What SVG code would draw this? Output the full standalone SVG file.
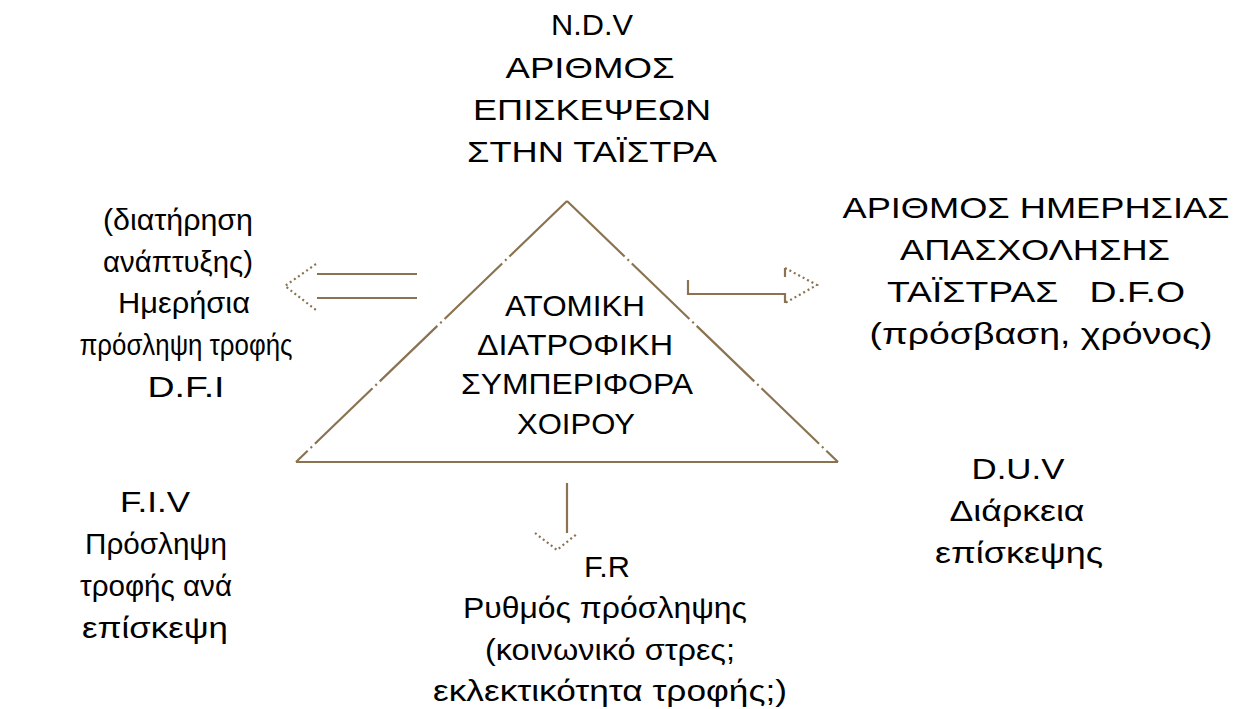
<svg xmlns="http://www.w3.org/2000/svg" width="1238" height="709" viewBox="0 0 1238 709">
<style>
.t{font-family:"Liberation Sans",Arial,sans-serif;font-size:30px;fill:#000;text-anchor:middle;white-space:pre}
.ln{stroke:#8a7350;stroke-width:2.2;fill:none}
.dot{stroke:#8a7350;stroke-width:2.2;stroke-dasharray:2 3;fill:none}
.dash{stroke:#8a7350;stroke-width:2.2;stroke-dasharray:80 4 2 4;fill:none}
</style>
<rect width="1238" height="709" fill="#fff"/>
<g id="center">
<path class="ln" d="M296 462 H838"/>
<path class="dash" d="M567 201 L296 462"/>
<path class="dash" d="M567 201 L838 462"/>
<text class="t" x="575" y="316" textLength="140" lengthAdjust="spacingAndGlyphs">ΑΤΟΜΙΚΗ</text>
<text class="t" x="575" y="355" textLength="196" lengthAdjust="spacingAndGlyphs">ΔΙΑΤΡΟΦΙΚΗ</text>
<text class="t" x="577" y="394" textLength="232" lengthAdjust="spacingAndGlyphs">ΣΥΜΠΕΡΙΦΟΡΑ</text>
<text class="t" x="576" y="434" textLength="118" lengthAdjust="spacingAndGlyphs">ΧΟΙΡΟΥ</text>
</g>
<g id="ndv">
<text class="t" x="592" y="35" textLength="82" lengthAdjust="spacingAndGlyphs">N.D.V</text>
<text class="t" x="590" y="78" textLength="169" lengthAdjust="spacingAndGlyphs">ΑΡΙΘΜΟΣ</text>
<text class="t" x="592" y="120" textLength="238" lengthAdjust="spacingAndGlyphs">ΕΠΙΣΚΕΨΕΩΝ</text>
<text class="t" x="592" y="162" textLength="250" lengthAdjust="spacingAndGlyphs">ΣΤΗΝ ΤΑΪΣΤΡΑ</text>
</g>
<g id="dfo">
<text class="t" x="1036" y="218" textLength="387" lengthAdjust="spacingAndGlyphs">ΑΡΙΘΜΟΣ ΗΜΕΡΗΣΙΑΣ</text>
<text class="t" x="1035" y="260" textLength="270" lengthAdjust="spacingAndGlyphs">ΑΠΑΣΧΟΛΗΣΗΣ</text>
<text class="t" x="1036" y="302" textLength="298" lengthAdjust="spacingAndGlyphs">ΤΑΪΣΤΡΑΣ   D.F.O</text>
<text class="t" x="1041" y="344" textLength="343" lengthAdjust="spacingAndGlyphs">(πρόσβαση, χρόνος)</text>
</g>
<g id="dfi">
<text class="t" x="178" y="230" textLength="150" lengthAdjust="spacingAndGlyphs">(διατήρηση</text>
<text class="t" x="178" y="272" textLength="150" lengthAdjust="spacingAndGlyphs">ανάπτυξης)</text>
<text class="t" x="184" y="313" textLength="132" lengthAdjust="spacingAndGlyphs">Ημερήσια</text>
<text class="t" x="186" y="355" textLength="213" lengthAdjust="spacingAndGlyphs">πρόσληψη τροφής</text>
<text class="t" x="186" y="397" textLength="77" lengthAdjust="spacingAndGlyphs">D.F.I</text>
</g>
<g id="fiv">
<text class="t" x="155" y="512" textLength="70" lengthAdjust="spacingAndGlyphs">F.I.V</text>
<text class="t" x="156" y="554" textLength="142" lengthAdjust="spacingAndGlyphs">Πρόσληψη</text>
<text class="t" x="156" y="596" textLength="152" lengthAdjust="spacingAndGlyphs">τροφής ανά</text>
<text class="t" x="155" y="638" textLength="146" lengthAdjust="spacingAndGlyphs">επίσκεψη</text>
</g>
<g id="fr">
<text class="t" x="607" y="577" textLength="46" lengthAdjust="spacingAndGlyphs">F.R</text>
<text class="t" x="605" y="618" textLength="284" lengthAdjust="spacingAndGlyphs">Ρυθμός πρόσληψης</text>
<text class="t" x="610" y="660" textLength="250" lengthAdjust="spacingAndGlyphs">(κοινωνικό στρες;</text>
<text class="t" x="610" y="701" textLength="354" lengthAdjust="spacingAndGlyphs">εκλεκτικότητα τροφής;)</text>
</g>
<g id="duv">
<text class="t" x="1018" y="479" textLength="93" lengthAdjust="spacingAndGlyphs">D.U.V</text>
<text class="t" x="1017" y="521" textLength="135" lengthAdjust="spacingAndGlyphs">Διάρκεια</text>
<text class="t" x="1019" y="563" textLength="168" lengthAdjust="spacingAndGlyphs">επίσκεψης</text>
</g>
<g id="connectors">
<path class="ln" d="M317 274 H417 M317 298 H417"/>
<path class="dot" d="M316 264 L285 286 L316 310"/>
<path class="ln" d="M688 280 V294 H785 M785 268 V277 M785 293 V303"/>
<path class="dot" d="M785 268 L817 285 L785 303"/>
<path class="ln" d="M567 483 V533"/>
<path class="dot" d="M535 533 L557 550 L578 533"/>
</g>
</svg>
